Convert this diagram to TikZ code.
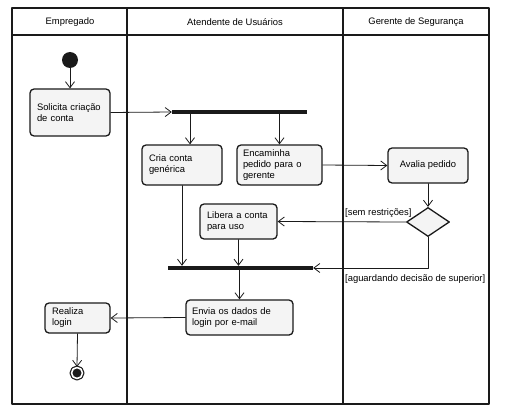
\documentclass[tikz,border=0pt]{standalone}
\usepackage{fontspec}
\setmainfont{Liberation Sans}
\definecolor{boxfill}{RGB}{244,244,244}
\definecolor{ink}{RGB}{26,26,26}
\usetikzlibrary{arrows.meta,shapes.geometric}
\tikzset{
    action/.style = {draw=ink, line width=1.3pt, rounded corners=4pt, fill=boxfill,
        inner sep=0pt, align=left, font=\fontsize{9.4}{11}\selectfont},
    syncbar/.style = {fill=ink, draw=none, inner sep=0pt, minimum height=4pt},
    flow/.style = {draw=ink, line width=0.8pt, -{Straight Barb[length=6pt,width=9pt,line width=0.8pt]}},
    guard/.style = {font=\fontsize{9.4}{11}\selectfont, inner sep=0pt},
    lane/.style = {font=\fontsize{9.4}{11}\selectfont}
}

\begin{document}
\begin{tikzpicture}[x=1pt,y=-1pt,line cap=round,line join=round]
	\useasboundingbox (0,0) rectangle (505,417);
	\draw [line width=1.8pt, ink] (12,8) rectangle (489,404);
	\draw [line width=1.8pt, ink] (12,35) -- (489,35);
	\draw [line width=1.8pt, ink] (127,8) -- (127,404);
	\draw [line width=1.8pt, ink] (343,8) -- (343,404);
	\node [lane] (empregado) at (70,22) {Empregado};
	\node [lane] (atendente) at (235,22) {Atendente de Usuários};
	\node [lane] (gerente) at (416,22) {Gerente de Segurança};

	\node [circle, fill=ink, inner sep=0pt, minimum size=16pt] (start) at (70,60) {};
	\node [action, minimum width=80pt, minimum height=47pt, text width=66pt] (solicita) at (70,112.5) {Solicita criação\\de conta};
	\node [syncbar, minimum width=135pt] (fork) at (239.5,112) {};
	\node [action, minimum width=80pt, minimum height=40pt, text width=66pt] (cria) at (182,165) {Cria conta\\genérica};
	\node [action, minimum width=85pt, minimum height=40pt, text width=73pt] (encaminha) at (279.5,165) {Encaminha\\pedido para o\\gerente};
	\node [action, minimum width=80pt, minimum height=35pt, align=center] (avalia) at (428,165.5) {Avalia pedido};
	\node [diamond, draw=ink, line width=1.3pt, fill=boxfill, inner sep=0pt, minimum width=43pt, minimum height=29pt] (decisao) at (428,222) {};
	\node [action, minimum width=77pt, minimum height=35pt, text width=63pt] (libera) at (238.5,221.5) {Libera a conta\\para uso};
	\node [syncbar, minimum width=145pt] (join) at (240.5,268) {};
	\node [action, minimum width=107pt, minimum height=35pt, text width=95pt] (envia) at (239.5,317.5) {Envia os dados de\\login por e-mail};
	\node [action, minimum width=65pt, minimum height=30pt, text width=51pt] (realiza) at (77.5,318) {Realiza\\login};
	\node [circle, draw=ink, line width=1.2pt, fill=ink, inner sep=0pt, minimum size=11pt, double=white, double distance=1.6pt] (stop) at (77,373) {};

	\draw [flow] (start) -- (solicita);
	\draw [flow] (solicita.east) -- (fork.west);
	\draw [flow] ([xshift=8pt]cria.north |- fork.south) -- ([xshift=8pt]cria.north);
	\draw [flow] (encaminha.north |- fork.south) -- (encaminha.north);
	\draw [flow] (encaminha.east) -- (avalia.west);
	\draw [flow] (avalia.south) -- (decisao.north);
	\draw [flow] (decisao.west) -- (libera.east);
	\draw [flow] (cria.south) -- (cria.south |- join.north);
	\draw [flow] (libera.south) -- (libera.south |- join.north);
	\draw [flow] (decisao.south) |- (join.east);
	\draw [flow] (envia.north |- join.south) -- (envia.north);
	\draw [flow] (envia.west) -- (realiza.east);
	\draw [flow] (realiza.south) -- (stop.north);

	\node [guard, anchor=south west] (semrestricoes) at (345,218) {[sem restrições]};
	\node [guard, anchor=north west] (aguardando) at (345,274) {[aguardando decisão de superior]};
\end{tikzpicture}
\end{document}
